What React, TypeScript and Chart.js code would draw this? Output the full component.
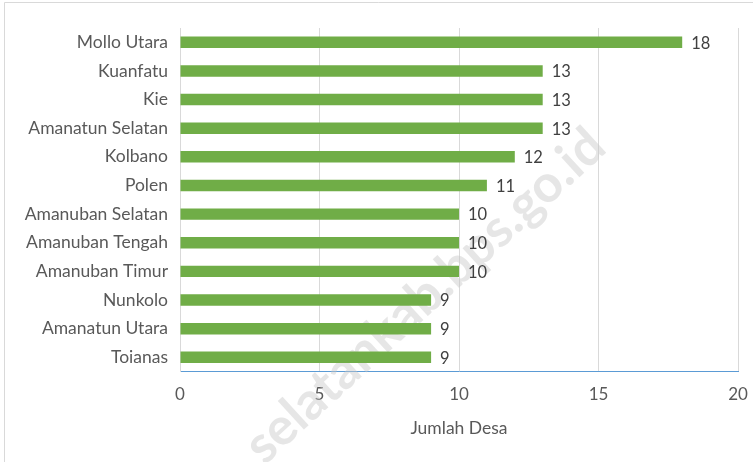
import React, { useEffect, useRef } from "react";
import { Chart, registerables } from "chart.js";

Chart.register(...registerables);

const categories = [
  "Mollo Utara",
  "Kuanfatu",
  "Kie",
  "Amanatun Selatan",
  "Kolbano",
  "Polen",
  "Amanuban Selatan",
  "Amanuban Tengah",
  "Amanuban Timur",
  "Nunkolo",
  "Amanatun Utara",
  "Toianas",
];
const values = [18, 13, 13, 13, 12, 11, 10, 10, 10, 9, 9, 9];
const axisTitle = "Jumlah Desa";
const watermark = "selatankab.bps.go.id";

const FONT = "Lato, 'Open Sans', sans-serif";

export default function App() {
  const ref = useRef<HTMLCanvasElement | null>(null);

  useEffect(() => {
    if (!ref.current) return;
    const labelsPlugin = {
      id: "labels",
      afterDatasetsDraw(chart: any) {
        const ctx = chart.ctx;
        const meta = chart.getDatasetMeta(0);
        ctx.save();
        ctx.fillStyle = "#404040";
        ctx.font = `16.5px ${FONT}`;
        ctx.textAlign = "left";
        ctx.textBaseline = "middle";
        meta.data.forEach((bar: any, i: number) => {
          ctx.fillText(String(values[i]), bar.x + 9, bar.y + 1);
        });
        ctx.restore();
      },
    };
    const framePlugin = {
      id: "frame",
      beforeDraw(chart: any) {
        const ctx = chart.ctx;
        ctx.save();
        ctx.fillStyle = "#ffffff";
        ctx.fillRect(0, 0, chart.width, chart.height);
        ctx.strokeStyle = "#d9d9d9";
        ctx.lineWidth = 1;
        ctx.beginPath();
        ctx.moveTo(4.5, chart.height);
        ctx.lineTo(4.5, 2.5);
        ctx.lineTo(chart.width, 2.5);
        ctx.stroke();
        ctx.restore();
      },
      beforeDatasetsDraw(chart: any) {
        const ctx = chart.ctx;
        ctx.save();
        ctx.translate(425, 296);
        ctx.rotate(-42.5 * Math.PI / 180);
        ctx.fillStyle = "rgba(200,200,200,0.45)";
        ctx.font = `bold 52px ${FONT}`;
        ctx.textAlign = "center";
        ctx.textBaseline = "middle";
        ctx.fillText(watermark, 0, 0);
        ctx.restore();
      },
    };

    const chart = new Chart(ref.current, {
      type: "bar",
      data: {
        labels: categories,
        datasets: [
          {
            data: values,
            backgroundColor: "#70ad47",
            borderWidth: 0,
            barPercentage: 0.8,
            categoryPercentage: 0.5,
          },
        ],
      },
      options: {
        indexAxis: "y",
        animation: false,
        responsive: false,
        layout: { padding: { left: 0, right: 15, top: 28, bottom: 23 } },
        plugins: {
          legend: { display: false },
          tooltip: { enabled: false },
        },
        scales: {
          x: {
            min: 0,
            max: 20,
            ticks: {
              stepSize: 5,
              color: "#595959",
              font: { family: FONT, size: 17 },
              padding: 13,
            },
            grid: {
              color: "#d9d9d9",
              drawTicks: false,
            },
            border: { display: true, color: "#5b9bd5", width: 1 },
            title: {
              display: true,
              text: axisTitle,
              color: "#595959",
              font: { family: FONT, size: 17.5 },
              padding: { top: 0, bottom: 0 },
            },
            afterFit(scale: any) {
              scale.paddingLeft = 0;
              scale.paddingRight = 0;
            },
          },
          y: {
            ticks: {
              color: "#595959",
              font: { family: FONT, size: 17.5 },
              padding: 12,
            },
            grid: { display: false, drawTicks: false },
            border: { display: true, color: "#d9d9d9" },
            afterFit(scale: any) {
              scale.width = 180;
              scale.paddingTop = 0;
              scale.paddingBottom = 0;
            },
          },
        },
      },
      plugins: [framePlugin, labelsPlugin],
    });
    return () => chart.destroy();
  }, []);

  return (
    <div style={{ position: "fixed", left: 0, top: 0, width: 753, height: 462, background: "#fff" }}>
      <canvas ref={ref} width={753} height={462} style={{ display: "block" }} />
    </div>
  );
}
